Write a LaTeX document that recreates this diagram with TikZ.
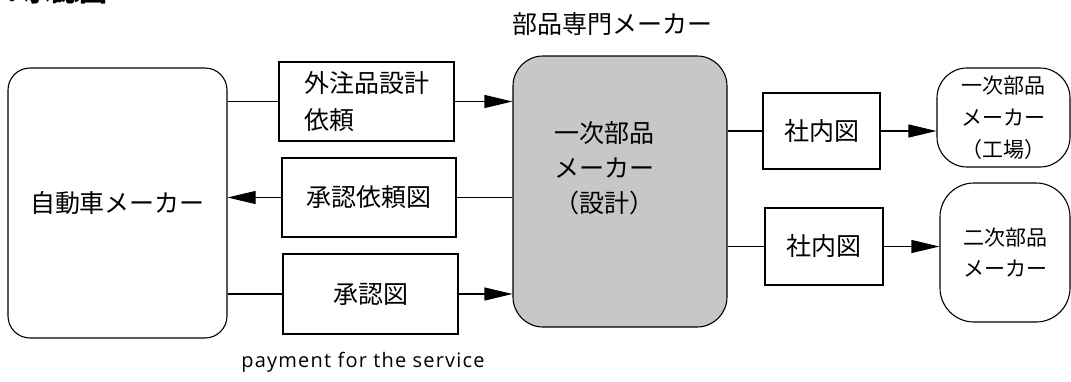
\documentclass[tikz,border=0pt]{standalone}
\usepackage{fontspec}
\setmainfont{Noto Sans CJK JP}
\newfontfamily\cjk{Noto Sans CJK JP}
\newfontfamily\latinsans[LetterSpace=6]{Open Sans}
\usetikzlibrary{arrows.meta}
\begin{document}
\begin{tikzpicture}[x=1pt,y=-1pt,line width=1.1pt,
  jp/.style={font=\cjk\fontsize{25}{37}\selectfont},
  sqbox/.style={draw, rectangle, inner sep=0pt, jp},
  rbox/.style={draw, rectangle, rounded corners=#1, inner sep=0pt, align=center},
  arr/.style={-{Triangle[length=28pt,width=13pt]}},
  lbl/.style={inner sep=0pt, align=center}]
\useasboundingbox (0,0) rectangle (1071,381);
\clip (0,0) rectangle (1071,381);
% heading (cut off at top)
\node[lbl, anchor=base west, font=\cjk\bfseries\fontsize{28}{30}\selectfont] (head) at (7,1) {.\hspace{6pt}承認図};
% left side
\node[rbox=22pt, jp, minimum width=219pt, minimum height=270pt] (car) at (117.5,203) {自動車メーカー};
\node[sqbox, align=left, minimum width=175pt, minimum height=79pt] (b1) at (366.5,101.5) {外注品設計\\依頼};
\node[sqbox, minimum width=174pt, minimum height=79pt] (b2) at (369,197.5) {承認依頼図};
\node[sqbox, minimum width=175pt, minimum height=80pt] (b3) at (370.5,294) {承認図};
% centre
\node[lbl, jp] (title) at (612,24) {部品専門メーカー};
\node[rbox=30pt, fill=black!22, minimum width=214pt, minimum height=271pt] (ctr) at (620,191.5) {};
\node[lbl, font=\cjk\fontsize{25}{35}\selectfont] (ctrtxt) at (604,168) {一次部品\\メーカー\\（設計）};
% right side
\node[sqbox, minimum width=117pt, minimum height=76pt] (s1) at (821.5,131) {社内図};
\node[sqbox, minimum width=118pt, minimum height=77pt] (s2) at (824,246.5) {社内図};
\node[rbox=30pt, font=\cjk\fontsize{21}{32}\selectfont, minimum width=133pt, minimum height=99pt] (r1) at (1003.5,117.5) {一次部品\\メーカー\\（工場）};
\node[rbox=34pt, font=\cjk\fontsize{21}{31}\selectfont, minimum width=130pt, minimum height=139pt] (r2) at (1005,252.5) {二次部品\\メーカー};
% caption
\node[lbl, font=\latinsans\fontsize{20}{22}\selectfont] (pay) at (363,362) {payment for the service};
% connectors
\draw (b1.west -| car.east) -- (b1.west);
\draw[arr] (b1.east) -- (b1.east -| ctr.west);
\draw (b2.east -| ctr.west) -- (b2.east);
\draw[arr] (b2.west) -- (b2.west -| car.east);
\draw (b3.west -| car.east) -- (b3.west);
\draw[arr] (b3.east) -- (b3.east -| ctr.west);
\draw (s1.west -| ctr.east) -- (s1.west);
\draw[arr] (s1.east) -- (s1.east -| r1.west);
\draw (s2.west -| ctr.east) -- (s2.west);
\draw[arr] (s2.east) -- (s2.east -| r2.west);
\end{tikzpicture}
\end{document}
